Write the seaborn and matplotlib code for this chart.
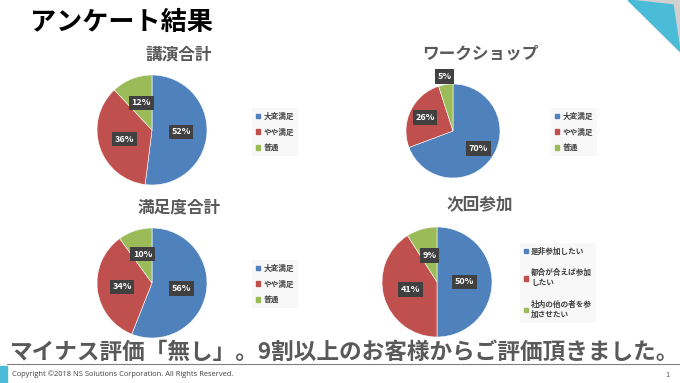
import matplotlib.pyplot as plt
import matplotlib.patches as mpatches
import seaborn as sns
import numpy as np

sns.set_theme(style="white")
plt.rcParams['font.family'] = ['Noto Sans CJK JP', 'DejaVu Sans']

# data
titles = ["講演合計", "ワークショップ", "満足度合計", "次回参加"]
labels_sat = ["大変満足", "やや満足", "普通"]
labels_next = ["是非参加したい", "都合が合えば参加\nしたい", "社内の他の者を参\n加させたい"]
lecture = [52, 36, 12]
workshop = [70, 26, 5]
satisfaction = [56, 34, 10]
next_time = [50, 41, 9]

colors = ["#4F81BD", "#C0504D", "#9BBB59"]
W, H = 680, 383

fig = plt.figure(figsize=(W / 100, H / 100), dpi=100)
fig.patch.set_facecolor("white")


def px(x, y):
    return x / W, 1 - y / H


def draw_pie(values, cx, cy, r, pctdist, title, tx, ty):
    s = 1.35 * r
    ax = fig.add_axes([(cx - s) / W, 1 - (cy + s) / H, 2 * s / W, 2 * s / H])
    wedges, _ = ax.pie(values, colors=colors, startangle=90, counterclock=False,
                       radius=1, wedgeprops=dict(linewidth=0.4, edgecolor="white"))
    total = sum(values)
    for w, v in zip(wedges, values):
        ang = np.deg2rad((w.theta1 + w.theta2) / 2)
        d = pctdist if v / total > 0.08 else 1.17
        ax.text(d * np.cos(ang), d * np.sin(ang), f"{v}%", ha="center", va="center",
                color="white", fontsize=6.5, fontweight="bold",
                bbox=dict(boxstyle="square,pad=0.3", fc="#404040", ec="none"))
    ax.set_xlim(-1.35, 1.35)
    ax.set_ylim(-1.35, 1.35)
    ax.axis("off")
    fig.text(*px(tx, ty), title, ha="center", va="center", fontsize=12,
             fontweight="bold", color="#595959")
    return ax


def add_legend(labels, x, y, spacing):
    handles = [mpatches.Patch(color=c) for c in colors]
    leg = fig.legend(handles, labels, loc="upper left", bbox_to_anchor=px(x, y),
                     fontsize=5.5, handlelength=0.6, handleheight=0.6, handletextpad=0.4,
                     labelspacing=spacing, frameon=True, borderpad=0.5)
    leg.get_frame().set_facecolor("#f7f7f7")
    leg.get_frame().set_edgecolor("none")
    leg.get_frame().set_boxstyle("square", pad=0)
    for t in leg.get_texts():
        t.set_color("#404040")
        t.set_fontweight("bold")


draw_pie(lecture, 152, 130, 55, 0.53, titles[0], 179, 54)
draw_pie(workshop, 453, 131, 47, 0.66, titles[1], 480, 53)
draw_pie(satisfaction, 152, 283, 55, 0.55, titles[2], 179, 207)
draw_pie(next_time, 437, 282, 55, 0.5, titles[3], 480, 204)

add_legend(labels_sat, 248, 104, 0.9)
add_legend(labels_sat, 547, 104, 0.9)
add_legend(labels_sat, 248, 256, 0.9)
add_legend(labels_next, 516, 239, 1.6)

# slide decorations
deco = fig.add_axes([0, 0, 1, 1], zorder=-1)
deco.set_xlim(0, W)
deco.set_ylim(H, 0)
deco.axis("off")
deco.add_patch(mpatches.Polygon([(628, 0), (680, 0), (680, 52)], closed=True, color="#D0D0D0"))
deco.add_patch(mpatches.Polygon([(628, 0), (673, 5), (680, 51)], closed=True, color="#4BBCD8"))
deco.add_patch(mpatches.Rectangle((0, 366), 7, 17, color="#4BBCD8"))
deco.plot([7, 680], [364, 364], color="#7F7F7F", lw=0.8)

fig.text(*px(30, 22), "アンケート結果", ha="left", va="center", fontsize=18.8,
         fontweight="bold", color="black")
fig.text(*px(10, 352), "マイナス評価「無し」。9割以上のお客様からご評価頂きました。",
         ha="left", va="center", fontsize=16.3, fontweight="bold", color="#595959")
fig.text(*px(12, 374), "Copyright ©2018 NS Solutions Corporation. All Rights Reserved.",
         ha="left", va="center", fontsize=5.4, color="#404040", family="Open Sans")
fig.text(*px(670, 375), "1", ha="right", va="center", fontsize=5.5, color="#595959")

fig.savefig("out.png", dpi=100, facecolor="white")
